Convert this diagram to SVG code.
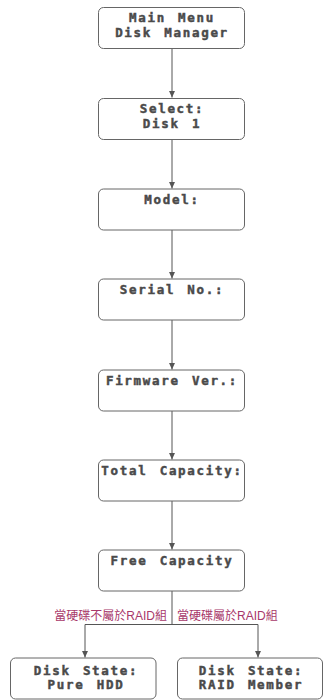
<svg xmlns="http://www.w3.org/2000/svg" width="325" height="700" viewBox="0 0 325 700">
  <style>
    .box { fill: #ffffff; stroke: #666666; stroke-width: 1; }
    .lcd { font-family: "DejaVu Sans Mono", "Liberation Mono", monospace; font-weight: bold; font-size: 12.5px; letter-spacing: 1.7px; word-spacing: 3px; fill: #4a4a4a; stroke: #4a4a4a; stroke-width: 0.45px; text-anchor: middle; }
    .wire { fill: none; stroke: #555555; stroke-width: 1; }
    .cond { font-family: "Liberation Sans", "Noto Sans CJK TC", sans-serif; font-size: 12px; fill: #a8386a; }
  </style>
  <defs>
    <marker id="arrow" markerWidth="8" markerHeight="8" refX="7" refY="4" orient="auto" markerUnits="userSpaceOnUse">
      <path d="M0,0.8 L7,4 L0,7.2 z" fill="#555555"/>
    </marker>
  </defs>
  <rect width="325" height="700" fill="#ffffff"/>

  <g id="connectors">
    <line class="wire" x1="172" y1="48" x2="172" y2="97.5" marker-end="url(#arrow)"/>
    <line class="wire" x1="172" y1="139" x2="172" y2="188.5" marker-end="url(#arrow)"/>
    <line class="wire" x1="172" y1="230" x2="172" y2="278.5" marker-end="url(#arrow)"/>
    <line class="wire" x1="172" y1="320" x2="172" y2="369.5" marker-end="url(#arrow)"/>
    <line class="wire" x1="172" y1="411" x2="172" y2="459.5" marker-end="url(#arrow)"/>
    <line class="wire" x1="172" y1="501" x2="172" y2="549.5" marker-end="url(#arrow)"/>
    <path class="wire" d="M172,591 V624.5 H85 V657.5" marker-end="url(#arrow)"/>
    <path class="wire" d="M172,624.5 H258 V657.5" marker-end="url(#arrow)"/>
    <text class="cond" x="167" y="620" text-anchor="end">當硬碟不屬於RAID組</text>
    <text class="cond" x="177" y="620">當硬碟屬於RAID組</text>
  </g>

  <g id="main-menu">
    <rect class="box" x="98.5" y="7.5" width="146" height="41" rx="5"/>
    <text class="lcd" x="172" y="22">Main Menu</text>
    <text class="lcd" x="172" y="36.5">Disk Manager</text>
  </g>
  <g id="select-disk">
    <rect class="box" x="98.5" y="98.5" width="146" height="41" rx="5"/>
    <text class="lcd" x="172" y="113">Select:</text>
    <text class="lcd" x="172" y="127.5">Disk 1</text>
  </g>
  <g id="model">
    <rect class="box" x="98.5" y="189" width="146" height="41" rx="5"/>
    <text class="lcd" x="172" y="203.5">Model:</text>
  </g>
  <g id="serial-no">
    <rect class="box" x="98.5" y="279" width="146" height="41" rx="5"/>
    <text class="lcd" x="172" y="293.5">Serial No.:</text>
  </g>
  <g id="firmware-ver">
    <rect class="box" x="98.5" y="370" width="146" height="41" rx="5"/>
    <text class="lcd" x="172" y="384.5">Firmware Ver.:</text>
  </g>
  <g id="total-capacity">
    <rect class="box" x="98.5" y="460" width="146" height="41" rx="5"/>
    <text class="lcd" x="172" y="474.5">Total Capacity:</text>
  </g>
  <g id="free-capacity">
    <rect class="box" x="98.5" y="550" width="146" height="41" rx="5"/>
    <text class="lcd" x="172" y="564.5">Free Capacity</text>
  </g>
  <g id="state-pure-hdd">
    <rect class="box" x="10.5" y="658" width="145.5" height="41" rx="5"/>
    <text class="lcd" x="86" y="674.5">Disk State:</text>
    <text class="lcd" x="86" y="689">Pure HDD</text>
  </g>
  <g id="state-raid-member">
    <rect class="box" x="177.5" y="658" width="145" height="41" rx="5"/>
    <text class="lcd" x="251" y="674.5">Disk State:</text>
    <text class="lcd" x="251" y="689">RAID Member</text>
  </g>
</svg>
